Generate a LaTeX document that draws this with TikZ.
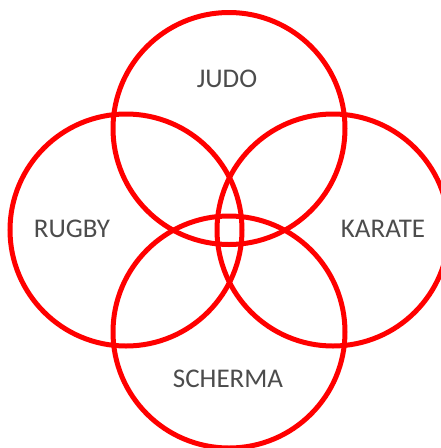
\documentclass[tikz,border=0pt]{standalone}
\usepackage{fontspec}
\setmainfont{Carlito}
\begin{document}
\begin{tikzpicture}[x=1pt,y=-1pt]
			% Stili
			\tikzstyle{cerchio}=[circle,draw=red,line width=5pt,minimum size=232pt,inner sep=0pt]
			\tikzstyle{etichetta}=[text=black!70,font=\fontsize{27}{32}\selectfont]
			% Dimensioni
			\def\CentroX{229}
			\def\CentroY{230}
			\def\Scarto{102}
			% Cornice
			\useasboundingbox (0,0) rectangle (440,448);
			% Cerchi
			\node[cerchio] (J) at ({\CentroX},{\CentroY-\Scarto+0.5}) {};
			\node[cerchio] (R) at ({\CentroX-\Scarto-1},{\CentroY}) {};
			\node[cerchio] (K) at ({\CentroX+\Scarto+2},{\CentroY}) {};
			\node[cerchio] (S) at ({\CentroX},{\CentroY+\Scarto}) {};
			% Etichette
			\node[etichetta] (Jt) at (227,79) {JUDO};
			\node[etichetta] (Rt) at (72,229) {RUGBY};
			\node[etichetta] (Kt) at (383,229) {KARATE};
			\node[etichetta] (St) at (228,379) {SCHERMA};
\end{tikzpicture}
\end{document}
